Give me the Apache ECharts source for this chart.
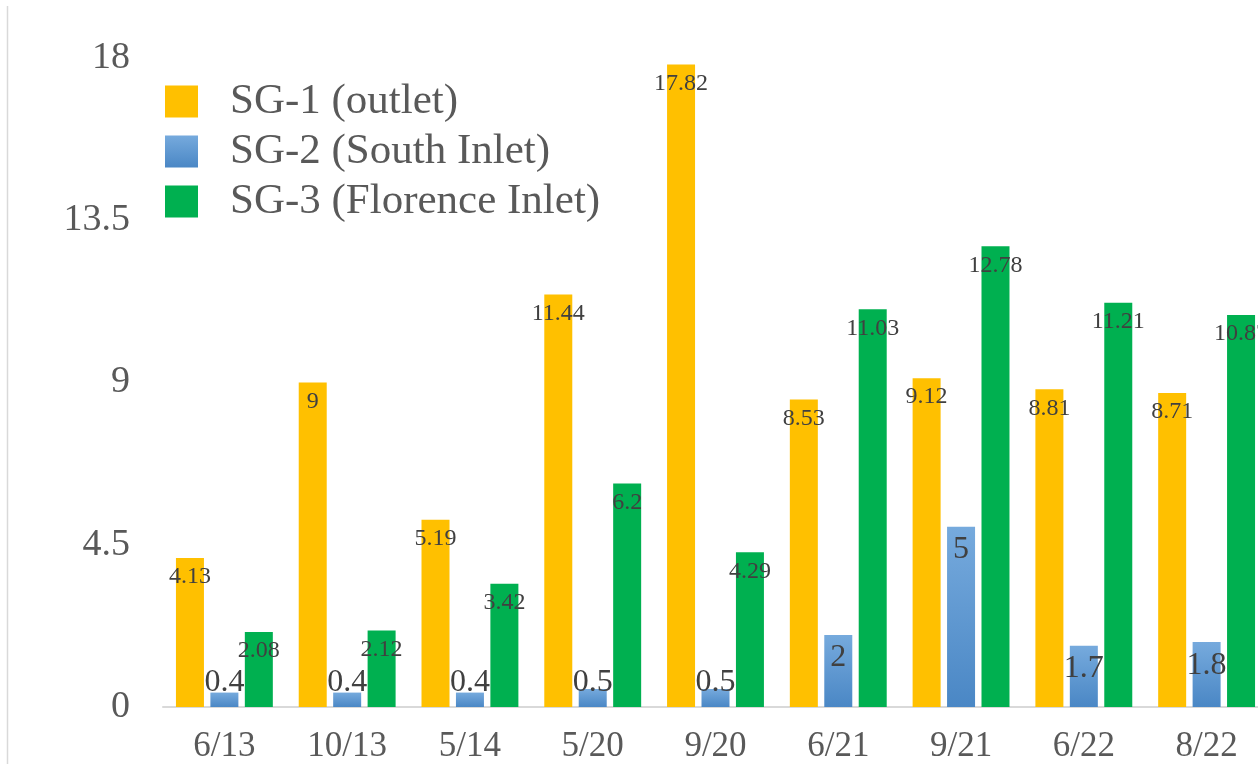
<!DOCTYPE html>
<html>
<head>
<meta charset="utf-8">
<script src="https://cdn.jsdelivr.net/npm/echarts@6/dist/echarts.min.js"></script>
<style>
  html, body { margin: 0; padding: 0; background: #ffffff; overflow: hidden; }
  /* The plot runs a little past the right edge of the window */
  #chart { width: 1268px; height: 764px; }
</style>
</head>
<body>
<div id="chart"></div>
<script>
// Sampling dates (month/year)
const categories = ['6/13', '10/13', '5/14', '5/20', '9/20', '6/21', '9/21', '6/22', '8/22'];

// Series values per gauge
const sg1Outlet = [4.13, 9, 5.19, 11.44, 17.82, 8.53, 9.12, 8.81, 8.71];
const sg2SouthInlet = [0.4, 0.4, 0.4, 0.5, 0.5, 2, 5, 1.7, 1.8];
const sg3FlorenceInlet = [2.08, 2.12, 3.42, 6.2, 4.29, 11.03, 12.78, 11.21, 10.87];

const seriesNames = ['SG-1 (outlet)', 'SG-2 (South Inlet)', 'SG-3 (Florence Inlet)'];

// Value axis ticks
const yMin = 0;
const yMax = 18;
const yInterval = 4.5;

const FONT = '"Liberation Serif", "Times New Roman", serif';
const LABEL_COLOR = '#404040';
const AXIS_TEXT = '#595959';

const blueGradient = new echarts.graphic.LinearGradient(0, 0, 0, 1, [
  { offset: 0, color: '#76aadd' },
  { offset: 1, color: '#4a87c5' }
]);

// Short bars carry their label sitting on the axis instead of inside the top
function labelledData(values) {
  return values.map(v => {
    if (v < 1) {
      return { value: v, label: { position: 'insideBottom', distance: 8 } };
    }
    return v;
  });
}

function barSeries(name, values, color, fontSize) {
  return {
    name: name,
    type: 'bar',
    data: labelledData(values),
    barWidth: 28,
    barGap: '23%',
    itemStyle: { color: color },
    label: {
      show: true,
      position: 'insideTop',
      distance: 7,
      fontFamily: FONT,
      fontSize: fontSize,
      color: LABEL_COLOR
    },
    emphasis: { disabled: true }
  };
}

const chart = echarts.init(document.getElementById('chart'), null, { renderer: 'canvas' });

chart.setOption({
  backgroundColor: '#ffffff',
  animation: false,
  textStyle: { fontFamily: FONT },
  grid: { left: 163, right: 0, top: 58, bottom: 57, containLabel: false },
  legend: {
    orient: 'vertical',
    left: 160,
    top: 75,
    itemWidth: 33,
    itemHeight: 32,
    itemGap: 7,
    icon: 'rect',
    data: seriesNames,
    textStyle: {
      fontFamily: FONT,
      fontSize: 43,
      lineHeight: 43,
      color: AXIS_TEXT,
      padding: [0, 0, 0, 27]
    },
    selectedMode: false
  },
  xAxis: {
    type: 'category',
    data: categories,
    axisLine: { show: true, lineStyle: { color: '#d9d9d9', width: 2 } },
    axisTick: { show: false },
    axisLabel: {
      fontFamily: FONT,
      fontSize: 35,
      color: AXIS_TEXT,
      margin: 22,
      interval: 0
    },
    splitLine: { show: false }
  },
  yAxis: {
    type: 'value',
    min: yMin,
    max: yMax,
    interval: yInterval,
    axisLine: { show: false },
    axisTick: { show: false },
    splitLine: { show: false },
    axisLabel: {
      fontFamily: FONT,
      fontSize: 38,
      color: AXIS_TEXT,
      margin: 33,
      formatter: v => String(v)
    }
  },
  graphic: [{
    type: 'line',
    shape: { x1: 7.5, y1: 6, x2: 7.5, y2: 764 },
    style: { stroke: '#d9d9d9', lineWidth: 1.5 },
    silent: true
  }],
  series: [
    barSeries(seriesNames[0], sg1Outlet, '#ffc000', 24),
    barSeries(seriesNames[1], sg2SouthInlet, blueGradient, 32),
    barSeries(seriesNames[2], sg3FlorenceInlet, '#00b050', 24)
  ]
});
</script>
</body>
</html>
